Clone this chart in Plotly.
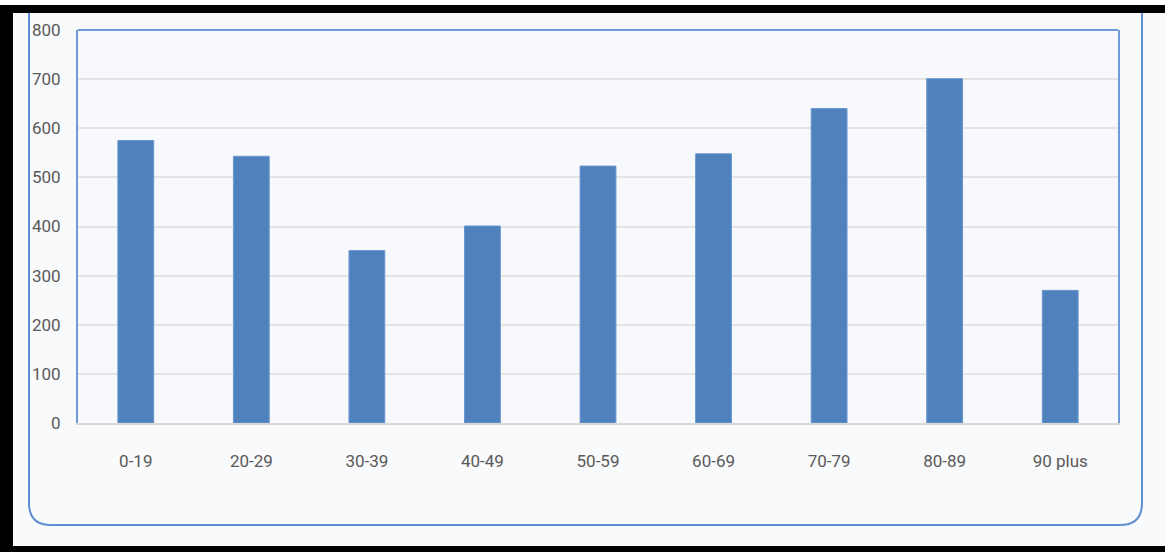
import plotly.graph_objects as go

categories = ["0-19", "20-29", "30-39", "40-49", "50-59", "60-69", "70-79", "80-89", "90 plus"]
values = [575, 543, 351, 401, 523, 548, 640, 701, 270]
y_ticks = [0, 100, 200, 300, 400, 500, 600, 700, 800]

W, H = 1165, 552
L, R, T, B = 78, 1118, 30, 423  # plot area in pixels

def px(x):
    return (x - L) / (R - L)

def py(y):
    return (B - y) / (B - T)

font = dict(family="Roboto, sans-serif", size=17, color="#595959")

fig = go.Figure(go.Bar(
    x=categories, y=values,
    marker=dict(color="#4f81bd", line=dict(color="#6b98cf", width=1)),
    width=0.31,
))

# outer rounded frame path (pixels -> paper)
r = 22
xl, xr, yb, yt = 29, 1142, 525, -30
path = (f"M {px(xl)},{py(yt)} L {px(xl)},{py(yb - r)} "
        f"Q {px(xl)},{py(yb)} {px(xl + r)},{py(yb)} "
        f"L {px(xr - r)},{py(yb)} Q {px(xr)},{py(yb)} {px(xr)},{py(yb - r)} "
        f"L {px(xr)},{py(yt)}")

shapes = [
    dict(type="path", path=path, xref="paper", yref="paper",
         line=dict(color="#5f8fd1", width=2), layer="below"),
    # top border of plot area
    dict(type="line", xref="paper", yref="paper", x0=0, x1=1, y0=1, y1=1,
         line=dict(color="#6f9bd6", width=2)),
    # black frame
    dict(type="rect", xref="paper", yref="paper", x0=px(-5), x1=px(W + 5), y0=py(5), y1=py(13),
         fillcolor="black", line=dict(width=0)),
    dict(type="rect", xref="paper", yref="paper", x0=px(-5), x1=px(13), y0=py(5), y1=py(H + 5),
         fillcolor="black", line=dict(width=0)),
    dict(type="rect", xref="paper", yref="paper", x0=px(-5), x1=px(W + 5), y0=py(546), y1=py(H + 5),
         fillcolor="black", line=dict(width=0)),
    dict(type="rect", xref="paper", yref="paper", x0=px(-5), x1=px(W + 5), y0=py(-5), y1=py(5),
         fillcolor="white", line=dict(width=0)),
]

fig.update_layout(
    width=W, height=H,
    margin=dict(l=L, r=W - R, t=T, b=H - B, pad=0),
    paper_bgcolor="#f9fafc",
    plot_bgcolor="#f8f9fc",
    font=font,
    showlegend=False,
    shapes=shapes,
    bargap=0.69,
)
fig.update_xaxes(
    showline=True, linecolor="#d9d9d9", linewidth=2,
    showgrid=False, ticks="", ticklabelstandoff=22,
    tickfont=font,
)
fig.update_yaxes(
    range=[0, 800], tickvals=y_ticks, showgrid=True, gridcolor="#e4e4e4", gridwidth=1.5,
    showline=True, mirror=True, linecolor="#6f9bd6", linewidth=2,
    zeroline=False, ticks="", ticklabelstandoff=12, tickfont=font,
)

fig.write_html("out.html", config={"displayModeBar": False},
               post_script="document.body.style.margin='0';document.body.style.overflow='hidden';")
